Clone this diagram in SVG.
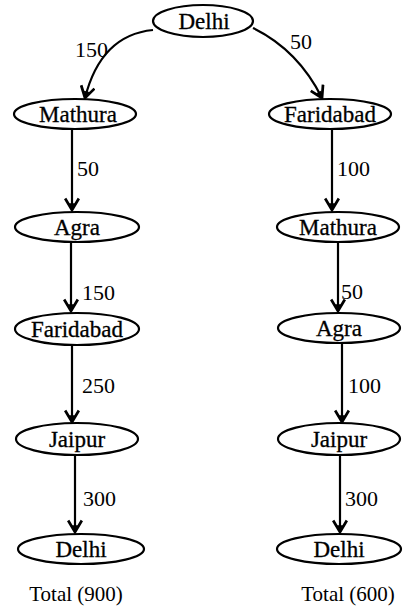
<svg xmlns="http://www.w3.org/2000/svg" width="405" height="608" viewBox="0 0 405 608" font-family="'Liberation Serif', 'Times New Roman', serif">
  <style>
    .node ellipse { fill: #fff; stroke: #000; stroke-width: 2.2; }
    .node text { font-family: "Liberation Serif", "Times New Roman", serif; font-size: 23px; fill: #000; text-anchor: middle; stroke: #000; stroke-width: 0.3; }
    .edge { fill: none; stroke: #000; stroke-width: 2.2; marker-end: url(#arrow); }
    .lbl { font-family: "Liberation Serif", "Times New Roman", serif; font-size: 22px; fill: #000; }
    .total { font-family: "Liberation Serif", "Times New Roman", serif; font-size: 21px; fill: #000; text-anchor: middle; }
  </style>
  <defs>
    <marker id="arrow" markerUnits="userSpaceOnUse" markerWidth="16" markerHeight="16" refX="12" refY="6" viewBox="0 0 14 12" orient="auto">
      <path d="M2,0 L12,6 L2,12" fill="none" stroke="#000" stroke-width="2.4" stroke-linejoin="miter"/>
      <path d="M6,3.5 L12,6 L6,8.5 Z" fill="#000"/>
    </marker>
  </defs>
  <rect width="405" height="608" fill="#fff"/>

  <!-- connectors -->
  <g id="edges">
    <path class="edge" d="M153,30 Q101,35 85,98"/>
    <path class="edge" d="M253,28 Q298,50 322,98"/>
    <path class="edge" d="M72,129 L72,210"/>
    <path class="edge" d="M71,242 L71,311"/>
    <path class="edge" d="M72,345 L72,422"/>
    <path class="edge" d="M75,455 L75,532"/>
    <path class="edge" d="M332,129 L332,210"/>
    <path class="edge" d="M338,242 L338,311"/>
    <path class="edge" d="M342,344 L342,422"/>
    <path class="edge" d="M340,455 L340,532"/>
  </g>

  <!-- distance labels -->
  <g id="labels">
    <text class="lbl" x="75" y="57">150</text>
    <text class="lbl" x="290" y="49">50</text>
    <text class="lbl" x="77" y="176">50</text>
    <text class="lbl" x="82" y="300">150</text>
    <text class="lbl" x="82" y="393">250</text>
    <text class="lbl" x="83" y="506">300</text>
    <text class="lbl" x="337" y="176">100</text>
    <text class="lbl" x="341" y="299">50</text>
    <text class="lbl" x="348" y="393">100</text>
    <text class="lbl" x="345" y="506">300</text>
  </g>

  <!-- start city -->
  <g id="delhi-start" class="node"><ellipse cx="203" cy="21" rx="50" ry="16"/><text x="204" y="29">Delhi</text></g>

  <!-- left route -->
  <g id="l-mathura" class="node"><ellipse cx="75" cy="114" rx="61" ry="15"/><text x="78" y="122">Mathura</text></g>
  <g id="l-agra" class="node"><ellipse cx="77" cy="227" rx="62" ry="15"/><text x="77" y="235">Agra</text></g>
  <g id="l-faridabad" class="node"><ellipse cx="77" cy="329" rx="62" ry="16"/><text x="77" y="337">Faridabad</text></g>
  <g id="l-jaipur" class="node"><ellipse cx="77" cy="439" rx="61" ry="16"/><text x="77" y="447">Jaipur</text></g>
  <g id="l-delhi" class="node"><ellipse cx="81" cy="549" rx="63" ry="15"/><text x="81" y="557">Delhi</text></g>

  <!-- right route -->
  <g id="r-faridabad" class="node"><ellipse cx="330" cy="114" rx="61" ry="15"/><text x="330" y="122">Faridabad</text></g>
  <g id="r-mathura" class="node"><ellipse cx="338" cy="227" rx="61" ry="15"/><text x="338" y="235">Mathura</text></g>
  <g id="r-agra" class="node"><ellipse cx="339" cy="328" rx="61" ry="15"/><text x="339" y="336">Agra</text></g>
  <g id="r-jaipur" class="node"><ellipse cx="339" cy="439" rx="61" ry="16"/><text x="339" y="447">Jaipur</text></g>
  <g id="r-delhi" class="node"><ellipse cx="339" cy="549" rx="62" ry="15"/><text x="339" y="557">Delhi</text></g>

  <!-- route totals -->
  <text class="total" x="76" y="601">Total (900)</text>
  <text class="total" x="348" y="601">Total (600)</text>
</svg>
